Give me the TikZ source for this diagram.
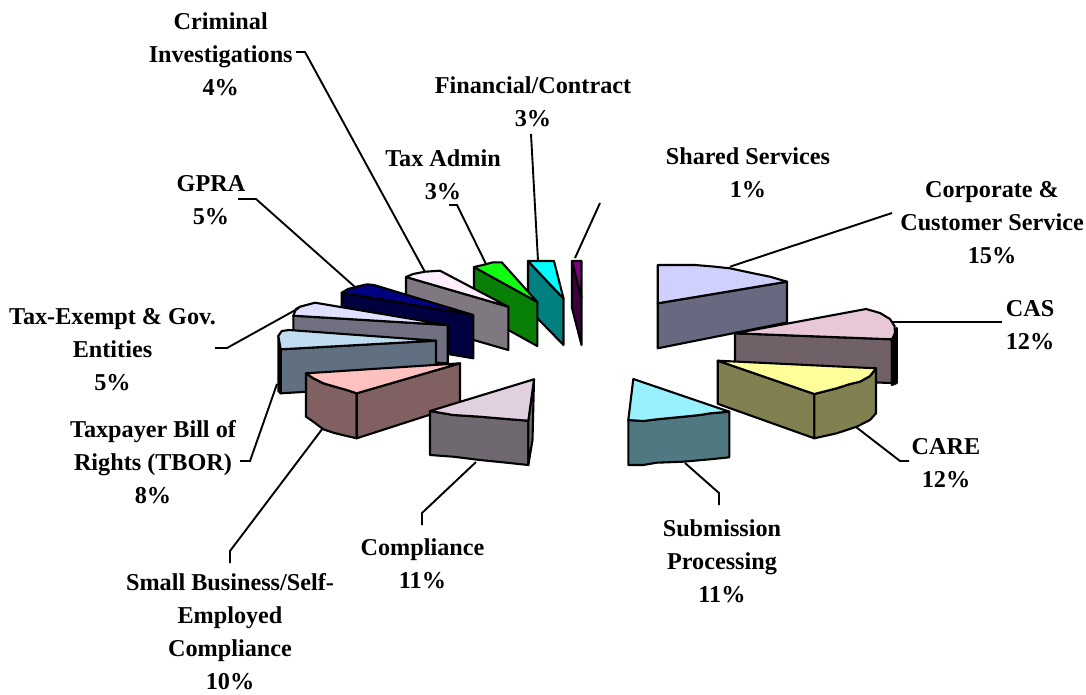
\documentclass[tikz,border=0pt]{standalone}
\usepackage{fontspec}
\setmainfont{Liberation Serif}
\definecolor{purT}{HTML}{800080}\definecolor{purS}{HTML}{400040}
\definecolor{cyaT}{HTML}{00FFFF}\definecolor{cyaS}{HTML}{008080}
\definecolor{grnT}{HTML}{10FF10}\definecolor{grnS}{HTML}{088008}
\definecolor{crmT}{HTML}{FFEEFF}\definecolor{crmS}{HTML}{807880}
\definecolor{navT}{HTML}{000080}\definecolor{navS}{HTML}{000040}
\definecolor{texT}{HTML}{E0E0FF}\definecolor{texS}{HTML}{707080}
\definecolor{tboT}{HTML}{C0DCF0}\definecolor{tboS}{HTML}{607080}
\definecolor{smbT}{HTML}{FFC0C0}\definecolor{smbS}{HTML}{806060}
\definecolor{cmpT}{HTML}{E0D0E0}\definecolor{cmpS}{HTML}{706870}
\definecolor{subT}{HTML}{99F0FF}\definecolor{subS}{HTML}{507880}
\definecolor{carT}{HTML}{FFFF99}\definecolor{carS}{HTML}{808050}
\definecolor{casT}{HTML}{E8C8D8}\definecolor{casS}{HTML}{706068}
\definecolor{corT}{HTML}{D0D0FF}\definecolor{corS}{HTML}{686880}
\begin{document}
\begin{tikzpicture}[x=1pt,y=-1pt,
  edge/.style={draw=black,line width=2.1pt,line join=round},
  lab/.style={font=\bfseries\fontsize{24.2}{33}\selectfont,align=center,anchor=north,inner sep=0pt},
  lead/.style={draw=black,line width=1.9pt}]
\useasboundingbox (0,0) rectangle (1086,694);
% ---- Shared Services
\path[edge,fill=purS] (572,261) -- (581.5,298) -- (581.5,345) -- (572,308) -- cycle;
\path[edge,fill=purT] (572,261) -- (581.5,261) -- (581.5,298) -- cycle;
% ---- Financial/Contract
\path[edge,fill=cyaS] (528,261) -- (563.5,298.5) -- (563.5,345) -- (528,308.5) -- cycle;
\path[edge,fill=cyaT] (528,261) -- (554,261) -- (563.5,298.5) -- cycle;
% ---- Tax Admin
\path[edge,fill=grnS] (474,267) -- (537.3,302) -- (537.3,346) -- (474,311) -- cycle;
\path[edge,fill=grnT] (474,267) -- (483,265) -- (493,262.3) -- (501.7,262.3) -- (537.3,302) -- cycle;
% ---- Criminal Investigations
\path[edge,fill=crmS] (406,277) -- (508.3,306.7) -- (508.3,350) -- (406,320.5) -- cycle;
\path[edge,fill=crmT] (406,277) -- (413,274) -- (425,271.7) -- (440,270.7) -- (508.3,306.7) -- cycle;
% ---- GPRA
\path[edge,fill=navS] (341.7,292.7) -- (473.3,315) -- (473.3,358.3) -- (341.7,336) -- cycle;
\path[edge,fill=navT] (341.7,292.7) -- (348,289) -- (356.7,286.7) -- (366.7,284.3) -- (374,285) -- (473.3,315) -- cycle;
% ---- Tax-Exempt
\path[edge,fill=texS] (293.3,315.7) -- (447.7,325) -- (447.7,363.3) -- (293.3,354) -- cycle;
\path[edge,fill=texT] (293.3,315.7) -- (296,309) -- (300,306.7) -- (315,302.7) -- (447.7,325) -- cycle;
% ---- TBOR
\path[edge,fill=tboS] (278.3,336) -- (280.7,349.3) -- (280.7,393.3) -- (278.3,391) -- cycle;
\path[edge,fill=tboS] (280.7,349.3) -- (436,340.7) -- (436,384) -- (280.7,393.3) -- cycle;
\path[edge,fill=tboT] (278.3,336) -- (281.7,331) -- (289,330) -- (436,340.7) -- (280.7,349.3) -- cycle;
% ---- Small Business
\path[edge,fill=smbS] (306,373.3) -- (313.3,378.3) -- (323.3,383.3) -- (335,386.7) -- (346.7,390) -- (356.7,393.3) -- (356.7,438.3) -- (346.7,436) -- (333.3,432.7) -- (323.3,429.3) -- (313.3,421.7) -- (306,416.7) -- cycle;
\path[edge,fill=smbS] (356.7,393.3) -- (460,363.3) -- (460,405) -- (356.7,438.3) -- cycle;
\path[edge,fill=smbT] (306,373.3) -- (460,363.3) -- (356.7,393.3) -- (346.7,390) -- (335,386.7) -- (323.3,383.3) -- (313.3,378.3) -- cycle;
% ---- Compliance
\path[edge,fill=cmpS] (430,411) -- (453.3,415) -- (480,416.7) -- (506.7,419) -- (528.3,420.7) -- (528.3,465) -- (506.7,462.7) -- (480,460) -- (453.3,456.7) -- (430,455) -- cycle;
\path[edge,fill=cmpS] (528.3,420.7) -- (534,379.3) -- (532.5,440) -- (528.3,465) -- cycle;
\path[edge,fill=cmpT] (430,411) -- (534,379.3) -- (528.3,420.7) -- (506.7,419) -- (480,416.7) -- (453.3,415) -- cycle;
% ---- Corporate & Customer Service
\path[edge,fill=corS] (657.7,303.3) -- (787,281.7) -- (787,322.5) -- (657.7,348.3) -- cycle;
\path[edge,fill=corT] (657.7,265) -- (695,265) -- (713,266.5) -- (730,268.3) -- (753.3,273.3) -- (770,276.7) -- (787,281.7) -- (657.7,303.3) -- cycle;
% ---- CAS
\path[edge,fill=casS] (735,333.3) -- (892,339.3) -- (892,383) -- (735,378) -- cycle;
\path[edge,fill=black] (892,339.3) -- (895,333) -- (896.7,328) -- (896.7,383) -- (892,385) -- cycle;
\path[edge,fill=casT] (735,333.3) -- (866,309) -- (880,313) -- (890,319) -- (894.5,326) -- (895,333) -- (892,339.3) -- cycle;
% ---- CARE
\path[edge,fill=carS] (717.7,360.7) -- (814.3,394) -- (814.3,438.3) -- (717.7,403.8) -- cycle;
\path[edge,fill=carS] (814.3,394) -- (836.7,388.3) -- (850,384) -- (860,381.7) -- (870,376) -- (876,368.3) -- (876,413.3) -- (870,420) -- (856.7,426.7) -- (836.7,433.3) -- (814.3,438.3) -- cycle;
\path[edge,fill=carT] (717.7,360.7) -- (876,368.3) -- (870,376) -- (860,381.7) -- (850,384) -- (836.7,388.3) -- (814.3,394) -- cycle;
% ---- Submission Processing
\path[edge,fill=subS] (628.3,420) -- (643.3,421) -- (656.7,419.3) -- (683.3,416.7) -- (700,415) -- (710,413.3) -- (729.3,411.7) -- (729.3,457.3) -- (710,459.3) -- (683.3,461.7) -- (656.7,462.7) -- (643.3,465) -- (628.3,465) -- cycle;
\path[edge,fill=subT] (633.3,379) -- (729.3,411.7) -- (710,413.3) -- (700,415) -- (683.3,416.7) -- (656.7,419.3) -- (643.3,421) -- (628.3,420) -- cycle;
% ---- labels
\node[lab] (crim) at (220.7,13) {Criminal\\Investigations\\4\%};
\node[lab] (fin) at (533,77) {Financial/Contract\\3\%};
\node[lab] (tax) at (443,150) {Tax Admin\\3\%};
\node[lab] (shr) at (748,148) {Shared Services\\1\%};
\node[lab] (corp) at (992,181) {Corporate \&\\Customer Service\\15\%};
\node[lab] (gpra) at (211,175) {GPRA\\5\%};
\node[lab] (texm) at (112.5,308) {Tax-Exempt \& Gov.\\Entities\\5\%};
\node[lab] (cas) at (1030,300) {CAS\\12\%};
\node[lab] (tbor) at (153,420) {Taxpayer Bill of\\Rights (TBOR)\\8\%};
\node[lab] (care) at (946,438) {CARE\\12\%};
\node[lab] (subm) at (722,519) {Submission\\Processing\\11\%};
\node[lab] (comp) at (422.5,538) {Compliance\\11\%};
\node[lab] (smb) at (230,573) {Small Business/Self-\\Employed\\Compliance\\10\%};
% ---- leader lines
\coordinate (crimL) at (296,52);   \coordinate (crimS) at (425,272);
\coordinate (finL) at (531,134);   \coordinate (finS) at (538,261);
\coordinate (taxL) at (449,205);   \coordinate (taxS) at (486,264);
\coordinate (shrL) at (600,203);   \coordinate (shrS) at (575,258);
\coordinate (corpL) at (892,213);  \coordinate (corpS) at (730,266.7);
\coordinate (gpraL) at (238,199);  \coordinate (gpraS) at (355,287);
\coordinate (texmL) at (215,348);  \coordinate (texmS) at (299,308);
\coordinate (casL) at (1002,322);  \coordinate (casS) at (893,322);
\coordinate (tborL) at (240,461);  \coordinate (tborS) at (277,384);
\coordinate (careL) at (909,461);  \coordinate (careS) at (856,427);
\coordinate (submL) at (719,505);  \coordinate (submS) at (685,463);
\coordinate (compL) at (422,525);  \coordinate (compS) at (476,462);
\coordinate (smbL) at (230,563);   \coordinate (smbS) at (323,428);
\draw[lead] (crimL) -- ++(9,0) -- (crimS);
\draw[lead] (finL) -- (finS);
\draw[lead] (taxL) -- ++(8,0) -- (taxS);
\draw[lead] (shrL) -- (shrS);
\draw[lead] (corpL) -- (corpS);
\draw[lead] (gpraL) -- ++(18,0) -- (gpraS);
\draw[lead] (texmL) -- ++(12,0) -- (texmS);
\draw[lead] (casL) -- (casS);
\draw[lead] (tborL) -- ++(10,0) -- (tborS);
\draw[lead] (careL) -- ++(-9,0) -- (careS);
\draw[lead] (submL) -- ++(0,-12) -- (submS);
\draw[lead] (compL) -- ++(0,-12) -- (compS);
\draw[lead] (smbL) -- ++(0,-12) -- (smbS);
\end{tikzpicture}
\end{document}
